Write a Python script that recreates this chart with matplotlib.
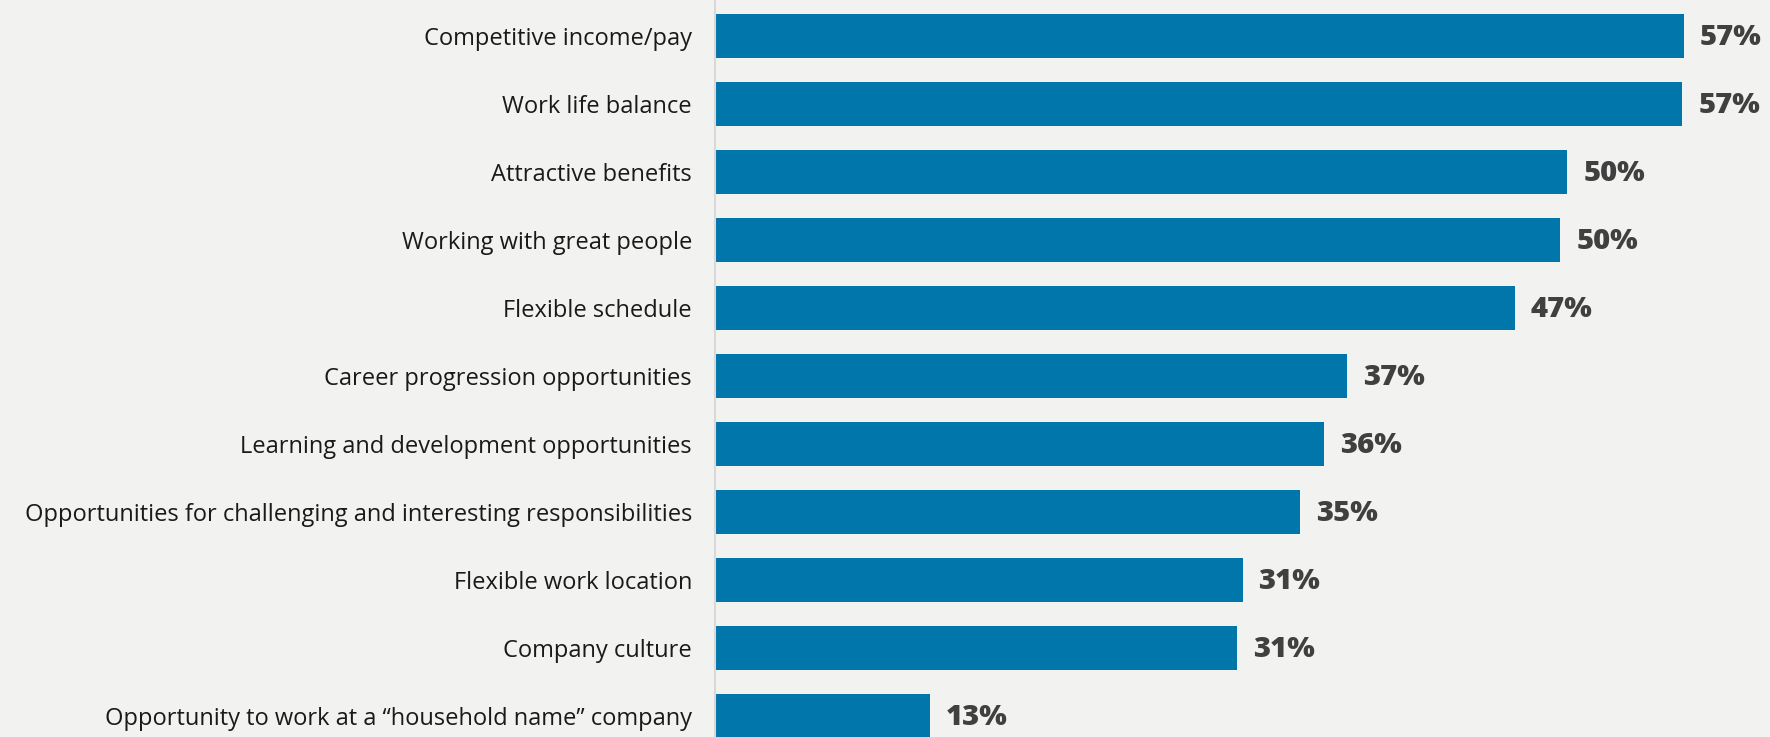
import matplotlib.pyplot as plt

# Data
categories = [
    "Competitive income/pay",
    "Work life balance",
    "Attractive benefits",
    "Working with great people",
    "Flexible schedule",
    "Career progression opportunities",
    "Learning and development opportunities",
    "Opportunities for challenging and interesting responsibilities",
    "Flexible work location",
    "Company culture",
    "Opportunity to work at a \u201chousehold name\u201d company",
]
values = [57.3, 57.2, 50.4, 50.0, 47.3, 37.4, 36.0, 34.6, 31.2, 30.9, 12.7]

bg = "#f2f2f0"
bar_color = "#0076aa"
text_color = "#404040"

plt.rcParams['font.family'] = ['Open Sans', 'DejaVu Sans']

fig = plt.figure(figsize=(17.7, 7.37), dpi=100, facecolor=bg)
ax = fig.add_axes([715 / 1770, 0, 1 - 715 / 1770, 1])
ax.set_facecolor(bg)

ypos = list(range(len(categories)))
ax.barh(ypos, values, height=0.647, color=bar_color)

for y, v in zip(ypos, values):
    ax.text(v + 0.95, y + 0.02, f"{round(v)}%", va='center', ha='left',
            fontsize=21, fontweight='heavy', color=text_color)

ax.set_yticks(ypos)
ax.set_yticklabels(categories, fontsize=17, color='#1a1a1a')
ax.tick_params(axis='y', length=0, pad=16.5)
ax.set_xticks([])

ax.set_xlim(0, 62.4)
ax.set_ylim(10.31, -0.53)

for s in ['top', 'right', 'bottom']:
    ax.spines[s].set_visible(False)
ax.spines['left'].set_color('#d9d9d9')
ax.spines['left'].set_linewidth(1.5)

fig.savefig("out.png", dpi=100, facecolor=bg)
